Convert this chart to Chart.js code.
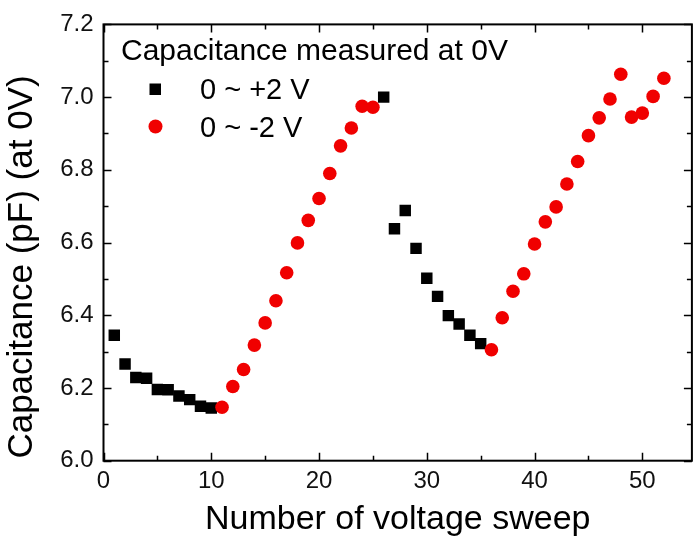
<!DOCTYPE html>
<html>
<head>
<meta charset="utf-8">
<script src="https://cdn.jsdelivr.net/npm/chart.js@4"></script>
<style>
  html, body { margin: 0; padding: 0; background: #fff; overflow: hidden; }
  #wrap { width: 695px; height: 547px; overflow: hidden; }
</style>
</head>
<body>
<div id="wrap"><canvas id="chart" width="700" height="547"></canvas></div>
<script>
// Sweep numbers and capacitance (pF, measured at 0 V)
const sweepUp = [1, 2, 3, 4, 5, 6, 7, 8, 9, 10, 26, 27, 28, 29, 30, 31, 32, 33, 34, 35];
const capUp = [6.345, 6.266, 6.229, 6.227, 6.196, 6.195, 6.178, 6.168, 6.150, 6.145,
               7.000, 6.638, 6.688, 6.584, 6.502, 6.452, 6.399, 6.376, 6.345, 6.322];

const sweepDown = [11, 12, 13, 14, 15, 16, 17, 18, 19, 20, 21, 22, 23, 24, 25,
                   36, 37, 38, 39, 40, 41, 42, 43, 44, 45, 46, 47, 48, 49, 50, 51, 52];
const capDown = [6.147, 6.204, 6.251, 6.318, 6.379, 6.440, 6.517, 6.599, 6.661, 6.721,
                 6.790, 6.866, 6.915, 6.975, 6.972,
                 6.305, 6.393, 6.466, 6.514, 6.596, 6.657, 6.698, 6.761, 6.823, 6.894,
                 6.943, 6.995, 7.063, 6.945, 6.956, 7.002, 7.052];

const seriesLabels = ['0 ~ +2 V', '0 ~ -2 V'];
const legendTitle = 'Capacitance measured at 0V';
const xTitle = 'Number of voltage sweep';
const yTitle = 'Capacitance (pF) (at 0V)';

const FONT = "'Liberation Sans', Arial, sans-serif";

const toPoints = (xs, ys) => xs.map((x, i) => ({ x: x, y: ys[i] }));

// Frame with inward major/minor ticks (Origin style)
const framePlugin = {
    id: 'frame',
    beforeDatasetsDraw(chart) {
        const { ctx, chartArea: a, scales: { x, y } } = chart;
        ctx.save();
        ctx.strokeStyle = '#000';
        ctx.lineWidth = 2;
        ctx.strokeRect(a.left, a.top, a.right - a.left, a.bottom - a.top);
        ctx.beginPath();
        x.ticks.forEach(t => {
            const px = Math.round(x.getPixelForValue(t.value)) + 0.5;
            const len = Math.round(t.value) % 10 === 0 ? 8 : 5;
            ctx.moveTo(px, a.bottom); ctx.lineTo(px, a.bottom - len);
            ctx.moveTo(px, a.top); ctx.lineTo(px, a.top + len);
        });
        y.ticks.forEach(t => {
            const py = Math.round(y.getPixelForValue(t.value)) + 0.5;
            const len = Math.round(t.value * 10) % 2 === 0 ? 8 : 5;
            ctx.moveTo(a.left, py); ctx.lineTo(a.left + len, py);
            ctx.moveTo(a.right, py); ctx.lineTo(a.right - len, py);
        });
        ctx.lineWidth = 1.5;
        ctx.stroke();
        ctx.restore();
    },
    afterDraw(chart) {
        const { ctx } = chart;
        ctx.save();
        // y axis title
        ctx.fillStyle = '#000';
        ctx.font = '35px ' + FONT;
        ctx.textAlign = 'center';
        ctx.textBaseline = 'middle';
        ctx.translate(22, 267);
        ctx.rotate(-Math.PI / 2);
        ctx.fillText(yTitle, 0, 0);
        ctx.restore();

        // legend
        ctx.save();
        ctx.fillStyle = '#000';
        ctx.textAlign = 'left';
        ctx.textBaseline = 'alphabetic';
        ctx.font = '30px ' + FONT;
        ctx.fillText(legendTitle, 121, 60);
        ctx.font = '29px ' + FONT;
        ctx.fillText(seriesLabels[0], 200, 99);
        ctx.fillText(seriesLabels[1], 200, 137);
        ctx.fillStyle = '#000';
        ctx.fillRect(149.5, 83.5, 11.5, 11.5);
        ctx.fillStyle = '#f00000';
        ctx.beginPath();
        ctx.arc(155.5, 126.5, 7, 0, Math.PI * 2);
        ctx.fill();
        ctx.restore();
    }
};

const ctx = document.getElementById('chart').getContext('2d');
new Chart(ctx, {
    type: 'scatter',
    data: {
        datasets: [
            {
                label: seriesLabels[0],
                data: toPoints(sweepUp, capUp),
                pointStyle: 'rect',
                pointRadius: 8.1,
                backgroundColor: '#000',
                borderColor: '#000',
                borderWidth: 0,
                order: 1,
            },
            {
                label: seriesLabels[1],
                data: toPoints(sweepDown, capDown),
                pointStyle: 'circle',
                pointRadius: 6.8,
                backgroundColor: '#f00000',
                borderColor: '#f00000',
                borderWidth: 0,
                order: 0,
            },
        ],
    },
    options: {
        responsive: false,
        animation: false,
        layout: { padding: { top: 20.7, right: 3, left: 0, bottom: 0 } },
        plugins: {
            legend: { display: false },
            tooltip: { enabled: false },
        },
        scales: {
            x: {
                type: 'linear',
                min: 0,
                max: 54.6,
                afterFit: (scale) => { scale.height = 86.3; },
                grid: { display: false, drawTicks: false },
                border: { display: false },
                ticks: {
                    stepSize: 5,
                    includeBounds: false,
                    maxRotation: 0,
                    autoSkip: false,
                    padding: 6,
                    color: '#111',
                    font: { family: FONT, size: 24 },
                    callback: (v) => (Math.round(v) % 10 === 0 ? String(Math.round(v)) : ''),
                },
                title: {
                    display: true,
                    text: xTitle,
                    color: '#000',
                    font: { family: FONT, size: 34 },
                    padding: { top: 0, bottom: 6.6 },
                },
            },
            y: {
                type: 'linear',
                min: 6.0,
                max: 7.2,
                afterFit: (scale) => { scale.width = 103.5; },
                grid: { display: false, drawTicks: false },
                border: { display: false },
                ticks: {
                    stepSize: 0.1,
                    includeBounds: false,
                    autoSkip: false,
                    padding: 10,
                    color: '#111',
                    font: { family: FONT, size: 24 },
                    callback: (v) => (Math.round(v * 10) % 2 === 0 ? v.toFixed(1) : ''),
                },
            },
        },
    },
    plugins: [framePlugin],
});
</script>
</body>
</html>
